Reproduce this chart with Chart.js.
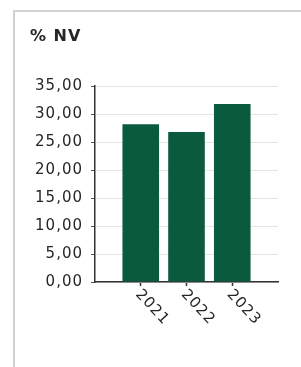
<!DOCTYPE html>
<html>
<head>
<meta charset="utf-8">
<script src="https://cdn.jsdelivr.net/npm/chart.js@4/dist/chart.umd.min.js"></script>
<style>
    html, body { margin: 0; padding: 0; background: #fff; }
    #wrap { position: relative; width: 301px; height: 367px; overflow: hidden; }
    #frame {
        position: absolute; left: 13px; top: 10px; width: 400px; height: 400px;
        border-left: 2px solid #d2d2d2; border-top: 2px solid #d2d2d2;
    }
    #nv-chart { position: absolute; left: 0; top: 0; }
</style>
</head>
<body>
<div id="wrap">
    <div id="frame"></div>
    <canvas id="nv-chart" width="301" height="367"></canvas>
</div>
<script>
// --- Data ---
const years = [2021, 2022, 2023];
const nvValues = [28.2, 26.8, 31.8];
const yTicks = [0, 5, 10, 15, 20, 25, 30, 35];

const barColor = '#0a5a3e';
const textColor = '#262626';
const fontFamily = '"DejaVu Sans", sans-serif';

// the source text looks horizontally stretched, a bit of letter spacing gets close
const spacedText = {
    id: 'spacedText',
    beforeUpdate(chart) { chart.ctx.letterSpacing = '1px'; },
    beforeDraw(chart) { chart.ctx.letterSpacing = '1px'; }
};

// year labels run down to the right, Chart.js only rotates the other way
const slantedYears = {
    id: 'slantedYears',
    afterDraw(chart) {
        const ctx = chart.ctx;
        const xScale = chart.scales.x;
        ctx.save();
        ctx.letterSpacing = '1px';
        ctx.font = '15px ' + fontFamily;
        ctx.fillStyle = textColor;
        ctx.textAlign = 'left';
        ctx.textBaseline = 'middle';
        years.forEach(yr => {
            const px = xScale.getPixelForValue(yr);
            ctx.save();
            ctx.translate(px - 3, xScale.top + 10);
            ctx.rotate(Math.PI * 0.26);
            ctx.fillText(String(yr), 0, 0);
            ctx.restore();
        });
        ctx.restore();
    }
};

const ctx = document.getElementById('nv-chart');
new Chart(ctx, {
    type: 'bar',
    data: {
        datasets: [{
            label: '% NV',
            data: years.map((yr, i) => ({ x: yr, y: nvValues[i] })),
            backgroundColor: barColor,
            borderWidth: 0,
            categoryPercentage: 1,
            barPercentage: 0.8
        }]
    },
    options: {
        responsive: false,
        animation: false,
        layout: { padding: { left: 30, top: 27, right: 23, bottom: 0 } },
        plugins: {
            legend: { display: false },
            tooltip: { enabled: false },
            title: {
                display: true,
                text: '% NV',
                align: 'start',
                color: textColor,
                font: { family: fontFamily, size: 16, weight: 'bold' },
                padding: { top: 0, bottom: 40 }
            }
        },
        scales: {
            x: {
                type: 'linear',
                min: 2020,
                max: 2024,
                offset: false,
                afterBuildTicks: scale => { scale.ticks = years.map(v => ({ value: v })); },
                afterFit: scale => { scale.height = 85; },
                ticks: { display: false },
                grid: { offset: false, drawOnChartArea: false, drawTicks: true, tickLength: 4, tickColor: '#333', tickWidth: 1.5 },
                border: { color: '#333', width: 1.5 }
            },
            y: {
                min: 0,
                max: 35,
                afterBuildTicks: scale => { scale.ticks = yTicks.map(v => ({ value: v })); },
                afterFit: scale => { scale.width = 65; },
                ticks: {
                    color: textColor,
                    padding: 8,
                    font: { family: fontFamily, size: 15 },
                    callback: v => v.toFixed(2).replace('.', ',')
                },
                grid: { color: '#e4e4e4', tickColor: '#555', tickLength: 4 },
                border: { color: '#333', width: 1.5 }
            }
        }
    },
    plugins: [spacedText, slantedYears]
});
</script>
</body>
</html>
